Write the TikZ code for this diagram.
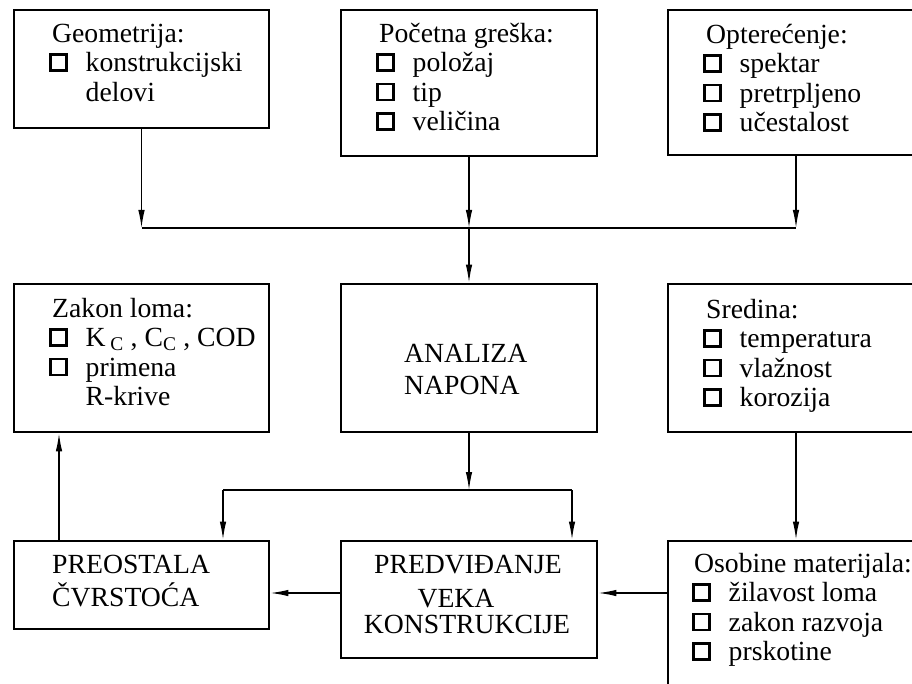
\documentclass[tikz,border=0pt]{standalone}
\usepackage{fontspec}
\setmainfont{Liberation Serif}
\usetikzlibrary{arrows.meta}
\newcommand{\chk}{\makebox[36.5pt][l]{\raisebox{2.3pt}{\setlength{\fboxsep}{0pt}\setlength{\fboxrule}{2.3pt}\fbox{\rule{0pt}{13.8pt}\rule{13.8pt}{0pt}}}}}
\newcommand{\ind}{\hspace*{36.5pt}}
\tikzset{
  box/.style={draw, line width=2.8pt, rectangle, inner sep=0pt},
  conn/.style={line width=1.3pt},
  arr/.style={conn, -{Latex[length=18pt,width=6.5pt]}},
  lst/.style={anchor=north west, align=left, inner sep=0pt, font=\fontsize{27.7pt}{29.5pt}\selectfont},
  capw/.style={anchor=base west, inner sep=0pt, font=\fontsize{27.7pt}{29.5pt}\selectfont},
  capc/.style={anchor=base, inner sep=0pt, font=\fontsize{27.7pt}{29.5pt}\selectfont},
}
\begin{document}
\begin{tikzpicture}[x=1pt, y=-1pt]
\useasboundingbox (0,0) rectangle (912,684);
\fill[white] (0,0) rectangle (912,684);
\clip (0,0) rectangle (912,684);

% boxes
\node[box, minimum width=255pt, minimum height=118pt] (geo)  at (141.5,69)   {};
\node[box, minimum width=256pt, minimum height=146pt] (err)  at (469,83)     {};
\node[box, minimum width=256pt, minimum height=145pt] (load) at (796,82.5)   {};
\node[box, minimum width=255pt, minimum height=148pt] (zak)  at (141.5,358)  {};
\node[box, minimum width=256pt, minimum height=148pt] (anal) at (469,358)    {};
\node[box, minimum width=256pt, minimum height=148pt] (sred) at (796,358)    {};
\node[box, minimum width=255pt, minimum height=88pt]  (preo) at (141.5,585)  {};
\node[box, minimum width=256pt, minimum height=117pt] (pred) at (469,599.5)  {};
\node[box, minimum width=256pt, minimum height=179pt] (osob) at (796,630.5)  {};

% texts
\node[lst] (tgeo) at (49,21.35) {\strut\hspace*{3pt}Geometrija:\\ \chk konstrukcijski\\ \ind delovi};
\node[lst] (terr) at (376,21.35) {\strut\hspace*{3pt}Početna greška:\\ \chk položaj\\ \chk tip\\ \chk veličina};
\node[lst] (tload) at (703,22.35) {\strut\hspace*{3pt}Opterećenje:\\ \chk spektar\\ \chk pretrpljeno\\ \chk učestalost};
\node[lst] (tzak) at (49,296.35) {\strut\hspace*{3pt}Zakon loma:\\ \chk K\,\textsubscript{C} , C\textsubscript{C} , COD\\ \chk primena\\ \ind R-krive};
\node[lst] (tsred) at (703,297.35) {\strut\hspace*{3pt}Sredina:\\ \chk temperatura\\ \chk vlažnost\\ \chk korozija};
\node[lst] (tosob) at (692,551.35) {\strut\hspace*{2pt}Osobine materijala:\\ \chk žilavost loma\\ \chk zakon razvoja\\ \chk prskotine};

\node[capw] (ta1) at (404,362) {ANALIZA};
\node[capw] (ta2) at (404,394) {NAPONA};
\node[capw] (tp1) at (52,573) {PREOSTALA};
\node[capw] (tp2) at (52,606) {ČVRSTOĆA};
\node[capc] (tv1) at (468,573) {PREDVIĐANJE};
\node[capc] (tv2) at (456,607) {VEKA};
\node[capc] (tv3) at (467,633) {KONSTRUKCIJE};

% connectors
\coordinate (jtop) at (469,228);
\draw[arr] (geo.south) -- (geo.south |- jtop);
\draw[arr] (err.south) -- (jtop);
\draw[arr] (load.south) -- (load.south |- jtop);
\draw[conn] (geo.south |- jtop) -- (load.south |- jtop);
\draw[arr] (jtop) -- (anal.north);

\coordinate (jmid) at (469,490);
\coordinate (jl) at (223,490);
\coordinate (jr) at (572,490);
\draw[arr] (anal.south) -- (jmid);
\draw[conn] (jl) -- (jr);
\draw[arr] (jl) -- (jl |- preo.north);
\draw[arr] (jr) -- (jr |- pred.north);

\draw[arr] (sred.south) -- (osob.north);
\coordinate (hy) at (0,593);
\draw[arr] (osob.west |- hy) -- (pred.east |- hy);
\draw[arr] (pred.west |- hy) -- (preo.east |- hy);
\coordinate (vx) at (59,0);
\draw[arr] (vx |- preo.north) -- (vx |- zak.south);
\end{tikzpicture}
\end{document}
